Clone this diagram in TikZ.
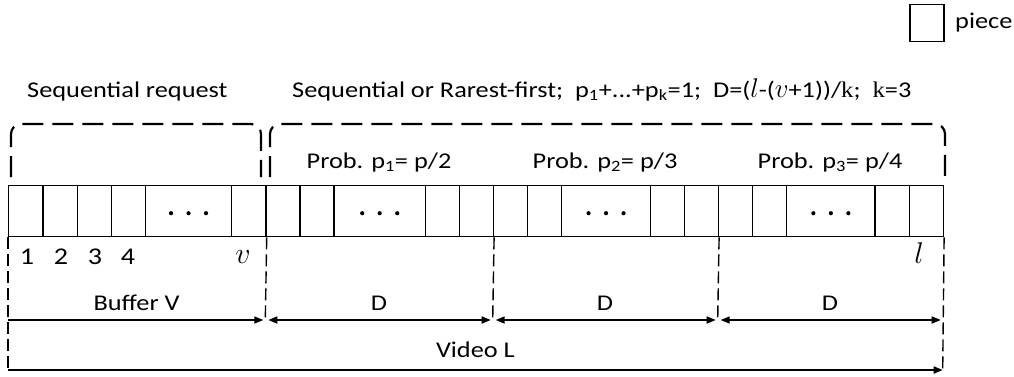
\RequirePackage{fix-cm}
\documentclass[tikz,border=0pt]{standalone}
\usepackage{fontspec}
\setmainfont{Carlito}[FakeStretch=1.17]
\newfontfamily\serifk{Liberation Serif}[FakeStretch=1.1]
\usetikzlibrary{arrows.meta}
\newcommand{\mvar}[1]{{\fontsize{27}{27}\selectfont$#1$}}
\begin{document}
\begin{tikzpicture}[x=1pt,y=-1pt,
  cell/.style={draw, line width=1.4pt, minimum height=51pt, inner sep=0pt, anchor=north west},
  bracket/.style={line width=2.2pt, dash pattern=on 21pt off 9pt, rounded corners=10pt},
  guide/.style={line width=1.4pt, dash pattern=on 12pt off 5pt},
  tip/.tip={Triangle[length=9pt,width=7pt]},
  dim/.style={line width=1.6pt},
  txt/.style={font=\fontsize{22.5}{26}\selectfont, inner sep=0pt},
  num/.style={font=\fontsize{24}{28}\selectfont, inner sep=0pt, anchor=base},
  var/.style={font=\fontsize{30}{30}\selectfont, inner sep=0pt, anchor=base},
]
\useasboundingbox (0,0) rectangle (1014,376);

% legend
\node[draw, line width=1.5pt, minimum width=34pt, minimum height=37pt, inner sep=0pt] (legend) at (927,23) {};
\node[txt, anchor=base west] (legendtxt) at (955,28) {piece};

% headings
\node[txt, anchor=base west] (seqreq) at (27,97) {Sequential request};
\node[txt, anchor=base west] (rarest) at (292,97)
  {Sequential or Rarest-first;\ \ p\textsubscript{1}+...+p\textsubscript{k}=1;\ \ D=(\mvar{l}-(\mvar{v}+1))/{\serifk k};\ \ {\serifk k}=3};

% piece strip
\foreach \a/\b [count=\i] in {8/42.3, 42.3/76.7, 76.7/110.7, 110.7/144.7, 231/265.3,
    265.3/299.3, 299.3/333.3, 424.7/458.7, 458.7/492.7,
    492.7/526.7, 526.7/561, 649.7/684, 684/717.7,
    717.7/751.7, 751.7/786, 874.3/908.7, 908.7/942.7}
  \node[cell, minimum width={\b-\a}] (c\i) at (\a,185) {};
\foreach \a/\b [count=\i] in {144.7/231, 333.3/424.7, 561/649.7, 786/874.3}{
  \node[cell, minimum width={\b-\a}] (d\i) at (\a,185) {};
  \foreach \s in {-17.5,0,17.5}
    \fill ([xshift=\s pt, yshift=-2pt]d\i.center) circle[radius=2.1pt];
}

% brackets over the strip
\draw[bracket] (11,177) -- (11,124) -- (261,124) -- (261,177);
\draw[bracket] (270,177) -- (270,124) -- (945,124) -- (945,177);

% probabilities
\node[txt, anchor=base] (prob1) at (379,168) {Prob. p\textsubscript{1}= p/2};
\node[txt, anchor=base] (prob2) at (605,168) {Prob. p\textsubscript{2}= p/3};
\node[txt, anchor=base] (prob3) at (830,168) {Prob. p\textsubscript{3}= p/4};

% piece indices
\node[num] (n1) at (27,264) {1};
\node[num] (n2) at (61,264) {2};
\node[num] (n3) at (95,264) {3};
\node[num] (n4) at (128,264) {4};
\node[var] (nv) at (243,263) {$v$};
\node[var] (nl) at (919,263) {$l$};

% segment boundaries
\coordinate (s0) at (c1.south west);
\coordinate (s1) at (c5.south east);
\coordinate (s2) at (c9.south east);
\coordinate (s3) at (c13.south east);
\coordinate (s4) at (c17.south east);
\coordinate (m0) at (8,320);
\coordinate (m1) at (265.3,320);
\coordinate (m2) at (492.7,320);
\coordinate (m3) at (717.7,320);
\coordinate (m4) at (942.7,320);
\coordinate (v0) at (8,370);
\coordinate (v4) at (942.7,370);

\draw[guide] (s0) -- (v0);
\draw[guide] (s1) -- (m1);
\draw[guide] (s2) -- (m2);
\draw[guide] (s3) -- (m3);
\draw[guide] (s4) -- (v4);

% dimensions
\draw[dim, -tip, shorten >=2pt] (m0) -- (m1);
\draw[dim, tip-tip, shorten <=3pt, shorten >=2pt] (m1) -- (m2);
\draw[dim, tip-tip, shorten <=3pt, shorten >=2pt] (m2) -- (m3);
\draw[dim, tip-tip, shorten <=3pt, shorten >=2pt] (m3) -- (m4);
\draw[dim, -tip] (v0) -- (v4);

\node[txt, anchor=base] (bufV) at (136.6,310) {Buffer V};
\node[txt, anchor=base] (D1) at (379,310) {D};
\node[txt, anchor=base] (D2) at (605,310) {D};
\node[txt, anchor=base] (D3) at (830,310) {D};
\node[txt, anchor=base] (vidL) at (475.4,357) {Video L};
\end{tikzpicture}
\end{document}
